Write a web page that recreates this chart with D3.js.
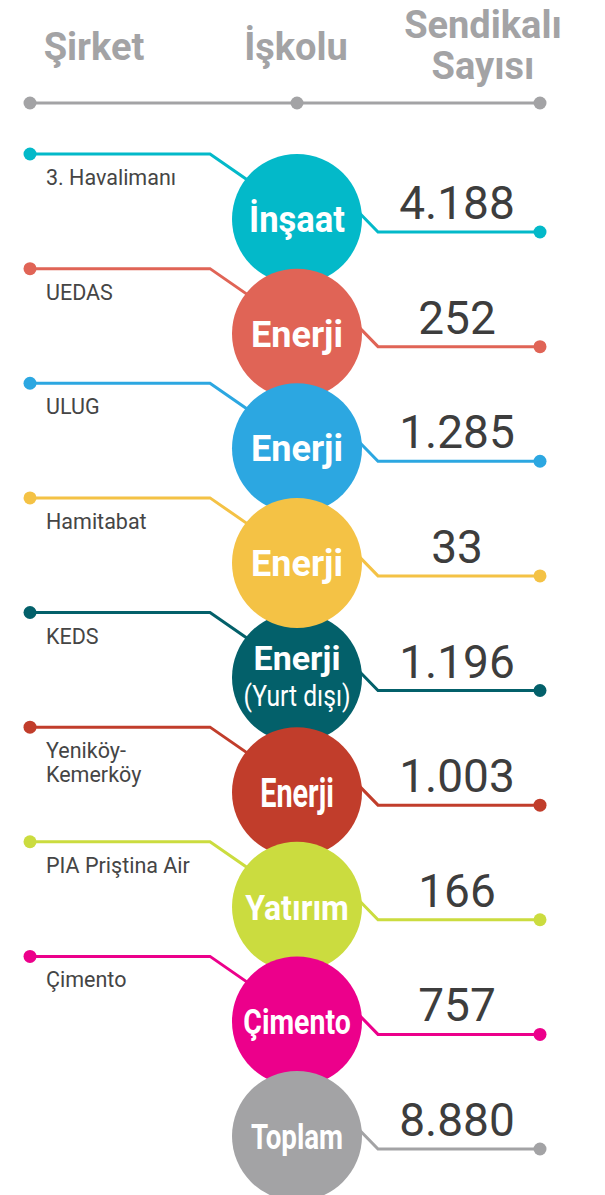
<!DOCTYPE html>
<meta charset="utf-8">
<script src="https://d3js.org/d3.v7.min.js"></script>
<style>
  body { margin: 0; background: #fff; }
  text { font-family: Roboto, "Noto Sans", sans-serif; }
</style>
<div id="my_viz"></div>
<script>

// data
var companies = ["3. Havalimanı", "UEDAS", "ULUG", "Hamitabat", "KEDS", "Yeniköy-|Kemerköy", "PIA Priştina Air", "Çimento", ""];
var sectors   = ["İnşaat", "Enerji", "Enerji", "Enerji", "Enerji|(Yurt dışı)", "Enerji", "Yatırım", "Çimento", "Toplam"];
var members   = [4188, 252, 1285, 33, 1196, 1003, 166, 757, 8880];
var colors    = ["#03b9c9", "#e06456", "#2ca7e1", "#f4c245", "#03606a", "#c13d2b", "#cbdc3f", "#ec008b", "#a3a3a5"];
var headers   = ["Şirket", "İşkolu", "Sendikalı|Sayısı"];

// bubble label look (the source mixes condensed and regular cuts)
var labelSize  = [36, 36, 36, 36, 34, 40, 36, 36, 36];
var labelSquash = [0.96, 1, 1, 1, 1, 0.72, 0.89, 0.79, 0.77];

var width = 605, height = 1195;
var r = 65;

var tr = d3.formatLocale({decimal: ",", thousands: ".", grouping: [3], currency: ["", "₺"]});
var fmt = tr.format(",d");

var svg = d3.select("#my_viz")
  .append("svg")
    .attr("width", width)
    .attr("height", height);

// column positions
var x = d3.scalePoint()
  .domain(["left", "mid", "right"])
  .range([30, 540]);
var cx = 297, numX = 457;

var y = d3.scalePoint()
  .domain(d3.range(members.length))
  .range([219, 1136]);

var rows = members.map(function(v, i) {
  return {i: i, company: companies[i], sector: sectors[i], value: v, color: colors[i]};
});

// header
var hx = [94, 296, 483];
headers.forEach(function(h, i) {
  var lines = h.split("|");
  var t = svg.append("text")
    .attr("text-anchor", "middle")
    .attr("x", hx[i])
    .attr("y", lines.length > 1 ? 38 : 60)
    .style("font-size", "38px")
    .style("font-weight", "bold")
    .style("fill", "#a3a3a5");
  lines.forEach(function(l, j) {
    t.append("tspan").attr("x", hx[i]).attr("dy", j ? 41 : 0).text(l);
  });
});

svg.append("line")
  .attr("x1", 30).attr("x2", 540)
  .attr("y1", 103).attr("y2", 103)
  .style("stroke", "#a3a3a5")
  .style("stroke-width", 3);
svg.selectAll(".hdot")
  .data([30, cx, 540])
  .enter()
  .append("circle")
    .attr("cx", function(d) { return d; })
    .attr("cy", 103)
    .attr("r", 6.5)
    .style("fill", "#a3a3a5");

// connector lines (behind circles)
var line = d3.line();
var left = rows.filter(function(d) { return d.company !== ""; });

svg.selectAll(".lpath")
  .data(left)
  .enter()
  .append("path")
    .attr("d", function(d) {
      var ly = y(d.i) - 65;
      return line([[x("left"), ly], [210, ly], [262, ly + 36]]);
    })
    .style("fill", "none")
    .style("stroke", function(d) { return d.color; })
    .style("stroke-width", 3);

svg.selectAll(".ldot")
  .data(left)
  .enter()
  .append("circle")
    .attr("cx", x("left"))
    .attr("cy", function(d) { return y(d.i) - 65; })
    .attr("r", 6.5)
    .style("fill", function(d) { return d.color; });

svg.selectAll(".rpath")
  .data(rows)
  .enter()
  .append("path")
    .attr("d", function(d) {
      var ry = y(d.i) + 13;
      return line([[cx + 40, ry - 42], [378, ry], [x("right"), ry]]);
    })
    .style("fill", "none")
    .style("stroke", function(d) { return d.color; })
    .style("stroke-width", 3);

svg.selectAll(".rdot")
  .data(rows)
  .enter()
  .append("circle")
    .attr("cx", x("right"))
    .attr("cy", function(d) { return y(d.i) + 13; })
    .attr("r", 6.5)
    .style("fill", function(d) { return d.color; });

// company labels
var lab = svg.selectAll(".company")
  .data(left)
  .enter()
  .append("text")
    .attr("x", 46)
    .attr("y", function(d) { return y(d.i) - 34; })
    .style("font-size", "21.5px")
    .style("fill", "#454545");
lab.selectAll("tspan")
  .data(function(d) { return d.company.split("|"); })
  .enter()
  .append("tspan")
    .attr("x", 46)
    .attr("dy", function(d, j) { return j ? 24 : 0; })
    .text(function(d) { return d; });

// bubbles, KEDS sits under Hamitabat
var order = [0, 1, 2, 4, 3, 5, 6, 7, 8];
var bub = svg.selectAll(".bubble")
  .data(order.map(function(k) { return rows[k]; }))
  .enter()
  .append("g")
    .attr("transform", function(d) { return "translate(" + cx + "," + y(d.i) + ")"; });

bub.append("circle")
  .attr("r", r)
  .style("fill", function(d) { return d.color; });

bub.each(function(d) {
  var g = d3.select(this);
  var lines = d.sector.split("|");
  if (lines.length > 1) {
    g.append("text")
      .attr("text-anchor", "middle")
      .attr("y", -8)
      .style("font-size", labelSize[d.i] + "px")
      .style("font-weight", "bold")
      .style("fill", "#fff")
      .text(lines[0]);
    g.append("text")
      .attr("text-anchor", "middle")
      .attr("y", 29)
      .attr("transform", "scale(0.85,1)")
      .style("font-size", "29px")
      .style("fill", "#fff")
      .text(lines[1]);
  } else {
    g.append("text")
      .attr("text-anchor", "middle")
      .attr("y", labelSize[d.i] * 0.36)
      .attr("transform", "scale(" + labelSquash[d.i] + ",1)")
      .style("font-size", labelSize[d.i] + "px")
      .style("font-weight", "bold")
      .style("fill", "#fff")
      .text(lines[0]);
  }
});

// member counts
svg.selectAll(".num")
  .data(rows)
  .enter()
  .append("text")
    .attr("text-anchor", "middle")
    .attr("x", numX)
    .attr("y", function(d) { return y(d.i); })
    .style("font-size", "46px")
    .style("fill", "#3d3d3d")
    .text(function(d) { return fmt(d.value); });

</script>
